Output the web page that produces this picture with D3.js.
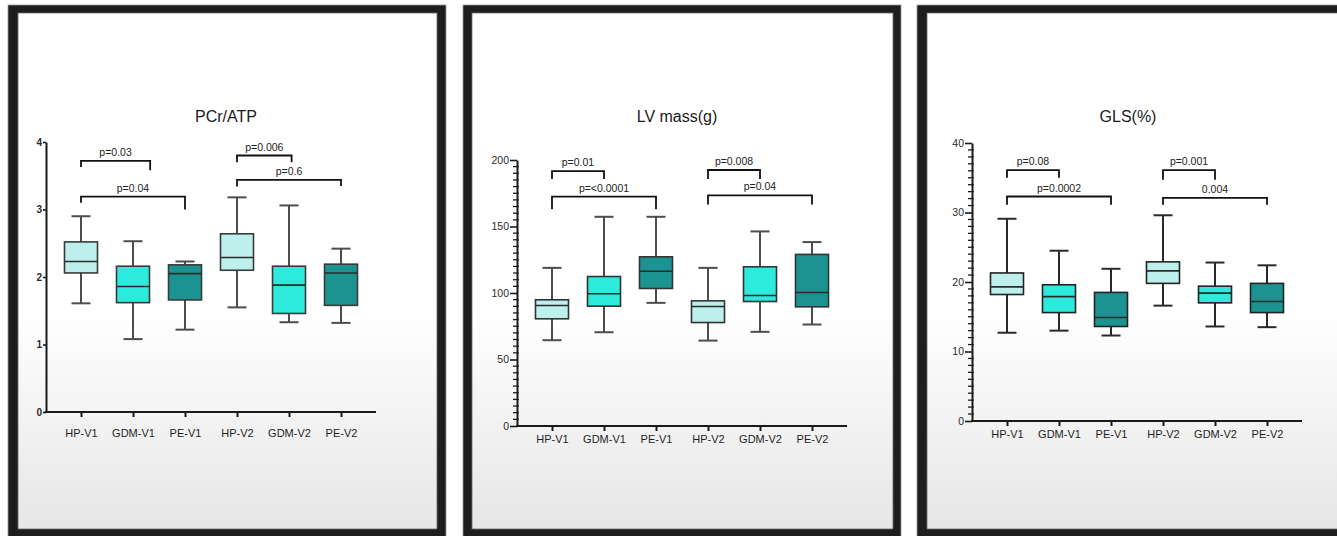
<!DOCTYPE html>
<html>
<head>
<meta charset="utf-8">
<script src="https://cdn.jsdelivr.net/npm/d3@7"></script>
<style>
  html, body { margin: 0; padding: 0; background: #ffffff; }
  svg { display: block; font-family: "Liberation Sans", Arial, Helvetica, sans-serif; }
</style>
</head>
<body>
<script>
// ---- categories and groups ----
const categories = ["HP-V1", "GDM-V1", "PE-V1", "HP-V2", "GDM-V2", "PE-V2"];
const groups = ["HP", "GDM", "PE", "HP", "GDM", "PE"];
const groupColors = { HP: "#bdefed", GDM: "#2debdc", PE: "#1b9491" };

// ---- PCr/ATP ----
const pcrMin    = [1.61, 1.08, 1.22, 1.55, 1.33, 1.32];
const pcrQ1     = [2.06, 1.62, 1.66, 2.10, 1.46, 1.58];
const pcrMedian = [2.23, 1.86, 2.05, 2.29, 1.88, 2.06];
const pcrQ3     = [2.52, 2.16, 2.18, 2.64, 2.16, 2.19];
const pcrMax    = [2.90, 2.53, 2.23, 3.18, 3.06, 2.42];
const pcrTicks  = [0, 1, 2, 3, 4];
const pcrBrackets = [
  { from: 0, to: 1.33, y: 3.72, leftEnd: 3.63, rightEnd: 3.58, label: "p=0.03" },
  { from: 0, to: 2,    y: 3.19, leftEnd: 3.10, rightEnd: 3.00, label: "p=0.04" },
  { from: 3, to: 4.05, y: 3.80, leftEnd: 3.70, rightEnd: 3.70, label: "p=0.006" },
  { from: 3, to: 5,    y: 3.44, leftEnd: 3.34, rightEnd: 3.35, label: "p=0.6" }
];

// ---- LV mass (g) ----
const lvMin    = [64.5, 70.5, 92.6, 64.2, 70.8, 76.3];
const lvQ1     = [80.6, 90.1, 103.4, 77.8, 93.6, 89.6];
const lvMedian = [90.6, 99.4, 116.4, 89.8, 98.1, 100.4];
const lvQ3     = [94.9, 112.4, 127.2, 94.1, 119.7, 129.0];
const lvMax    = [118.9, 157.3, 157.3, 118.9, 146.3, 138.3];
const lvTicks  = [0, 50, 100, 150, 200];
const lvBrackets = [
  { from: 0, to: 1, y: 191.7, leftEnd: 185.7, rightEnd: 185.7, label: "p=0.01" },
  { from: 0, to: 2, y: 172.4, leftEnd: 162.9, rightEnd: 162.9, label: "p=<0.0001" },
  { from: 3, to: 4, y: 192.5, leftEnd: 185.7, rightEnd: 185.7, label: "p=0.008" },
  { from: 3, to: 5, y: 173.4, leftEnd: 166.6, rightEnd: 166.6, label: "p=0.04" }
];

// ---- GLS (%) ----
const glsMin    = [12.7, 13.0, 12.3, 16.6, 13.6, 13.5];
const glsQ1     = [18.2, 15.6, 13.6, 19.8, 17.0, 15.6];
const glsMedian = [19.3, 17.9, 14.9, 21.6, 18.4, 17.2];
const glsQ3     = [21.3, 19.6, 18.5, 22.9, 19.4, 19.8];
const glsMax    = [29.1, 24.5, 21.9, 29.6, 22.8, 22.4];
const glsTicks  = [0, 10, 20, 30, 40];
const glsBrackets = [
  { from: 0, to: 1, y: 36.1, leftEnd: 35.0, rightEnd: 35.0, label: "p=0.08" },
  { from: 0, to: 2, y: 32.3, leftEnd: 31.1, rightEnd: 31.1, label: "p=0.0002" },
  { from: 3, to: 4, y: 36.1, leftEnd: 34.7, rightEnd: 34.7, label: "p=0.001" },
  { from: 3, to: 5, y: 32.1, leftEnd: 31.1, rightEnd: 31.1, label: "0.004" }
];

// ---- panel layout ----
const panels = [
  {
    title: "PCr/ATP", titleX: 226, titleY: 122,
    frameX: 8, frameW: 438, innerX: 18, innerW: 419,
    axisX: 46, yBottom: 412, yTop: 142, yMax: 4, ticks: pcrTicks, minorStep: null,
    boldTicks: true, tickLen: 3, labelPad: 12,
    min: pcrMin, q1: pcrQ1, med: pcrMedian, q3: pcrQ3, max: pcrMax, brackets: pcrBrackets,
    whisker: "#4d4d4d", boxStroke: "#3a3a3a"
  },
  {
    title: "LV mass(g)", titleX: 677, titleY: 122,
    frameX: 463, frameW: 438, innerX: 472, innerW: 421,
    axisX: 517, yBottom: 426, yTop: 160, yMax: 200, ticks: lvTicks, minorStep: 5,
    boldTicks: false, tickLen: 7, labelPad: 4,
    min: lvMin, q1: lvQ1, med: lvMedian, q3: lvQ3, max: lvMax, brackets: lvBrackets,
    whisker: "#4d4d4d", boxStroke: "#333333"
  },
  {
    title: "GLS(%)", titleX: 1128, titleY: 122,
    frameX: 917, frameW: 460, innerX: 927, innerW: 440,
    axisX: 972, yBottom: 421, yTop: 143, yMax: 40, ticks: glsTicks, minorStep: 1,
    boldTicks: false, tickLen: 7, labelPad: 4,
    min: glsMin, q1: glsQ1, med: glsMedian, q3: glsQ3, max: glsMax, brackets: glsBrackets,
    whisker: "#2a2a2a", boxStroke: "#222222"
  }
];

const W = 1337, H = 536;
const boxW = 33, capW = 19, axisSpan = 330;

const svg = d3.select("body").append("svg")
  .attr("width", W).attr("height", H);

const defs = svg.append("defs");
const grad = defs.append("linearGradient")
  .attr("id", "paper").attr("x1", 0).attr("y1", 0).attr("x2", 0).attr("y2", 1);
grad.append("stop").attr("offset", "0%").attr("stop-color", "#ffffff");
grad.append("stop").attr("offset", "58%").attr("stop-color", "#ffffff");
grad.append("stop").attr("offset", "100%").attr("stop-color", "#e6e6e6");

panels.forEach(p => {
  const g = svg.append("g");

  // picture frame
  g.append("rect")
    .attr("x", p.frameX).attr("y", 5)
    .attr("width", p.frameW).attr("height", 545)
    .attr("fill", "#1e1e1e")
    .attr("stroke", "#9a9a9a").attr("stroke-width", 0.8);
  g.append("rect")
    .attr("x", p.innerX).attr("y", 13)
    .attr("width", p.innerW).attr("height", 516)
    .attr("fill", "url(#paper)")
    .attr("stroke", "#6a6a6a").attr("stroke-width", 0.8);

  // scales
  const x = d3.scalePoint()
    .domain(categories)
    .range([p.axisX, p.axisX + axisSpan])
    .padding(0.673);
  const y = d3.scaleLinear()
    .domain([0, p.yMax])
    .range([p.yBottom, p.yTop]);
  const step = x.step();
  const xAt = v => x(categories[0]) + v * step;

  // title
  g.append("text")
    .attr("x", p.titleX).attr("y", p.titleY)
    .attr("text-anchor", "middle")
    .attr("font-size", 16).attr("fill", "#1a1a1a")
    .text(p.title);

  // minor ticks
  if (p.minorStep) {
    const minor = d3.range(0, p.yMax + 1e-9, p.minorStep).filter(v => !p.ticks.includes(v));
    g.append("g").selectAll("line").data(minor).join("line")
      .attr("x1", p.axisX - 4).attr("x2", p.axisX + 1.8)
      .attr("y1", d => y(d)).attr("y2", d => y(d))
      .attr("stroke", "#1a1a1a").attr("stroke-width", 1.3);
  }

  // y axis
  const yAxis = g.append("g")
    .attr("transform", `translate(${p.axisX},0)`)
    .call(d3.axisLeft(y).tickValues(p.ticks).tickFormat(d3.format("~g"))
      .tickSize(p.tickLen).tickSizeOuter(0).tickPadding(1));
  yAxis.select(".domain").attr("stroke", "#1a1a1a").attr("stroke-width", 2);
  yAxis.selectAll(".tick line").attr("stroke", "#1a1a1a").attr("stroke-width", 1.6);
  yAxis.selectAll(".tick text")
    .attr("font-family", "Liberation Sans, Arial, sans-serif")
    .attr("font-size", p.boldTicks ? 10 : 10.5)
    .attr("font-weight", p.boldTicks ? "bold" : "normal")
    .attr("fill", "#2a2a2a");

  // x axis
  const xAxis = g.append("g")
    .attr("transform", `translate(0,${p.yBottom})`)
    .call(d3.axisBottom(x).tickSize(5).tickSizeOuter(0).tickPadding(p.labelPad));
  xAxis.select(".domain").attr("stroke", "#1a1a1a").attr("stroke-width", 2)
    .attr("d", `M${p.axisX - 1},0H${p.axisX + axisSpan}`);
  xAxis.selectAll(".tick line").attr("stroke", "#1a1a1a").attr("stroke-width", 2);
  xAxis.selectAll(".tick text")
    .attr("font-family", "Liberation Sans, Arial, sans-serif")
    .attr("font-size", 11).attr("fill", "#1f1f1f");

  // box plots
  const idx = d3.range(categories.length);
  const boxes = g.append("g").selectAll("g").data(idx).join("g");

  // whiskers
  boxes.append("line")
    .attr("x1", i => x(categories[i])).attr("x2", i => x(categories[i]))
    .attr("y1", i => y(p.max[i])).attr("y2", i => y(p.q3[i]))
    .attr("stroke", p.whisker).attr("stroke-width", 2);
  boxes.append("line")
    .attr("x1", i => x(categories[i])).attr("x2", i => x(categories[i]))
    .attr("y1", i => y(p.q1[i])).attr("y2", i => y(p.min[i]))
    .attr("stroke", p.whisker).attr("stroke-width", 2);
  // caps
  boxes.append("line")
    .attr("x1", i => x(categories[i]) - capW / 2).attr("x2", i => x(categories[i]) + capW / 2)
    .attr("y1", i => y(p.max[i])).attr("y2", i => y(p.max[i]))
    .attr("stroke", p.whisker).attr("stroke-width", 2);
  boxes.append("line")
    .attr("x1", i => x(categories[i]) - capW / 2).attr("x2", i => x(categories[i]) + capW / 2)
    .attr("y1", i => y(p.min[i])).attr("y2", i => y(p.min[i]))
    .attr("stroke", p.whisker).attr("stroke-width", 2);
  // box
  boxes.append("rect")
    .attr("x", i => x(categories[i]) - boxW / 2)
    .attr("y", i => y(p.q3[i]))
    .attr("width", boxW)
    .attr("height", i => y(p.q1[i]) - y(p.q3[i]))
    .attr("fill", i => groupColors[groups[i]])
    .attr("stroke", p.boxStroke).attr("stroke-width", 1.6);
  // median
  boxes.append("line")
    .attr("x1", i => x(categories[i]) - boxW / 2).attr("x2", i => x(categories[i]) + boxW / 2)
    .attr("y1", i => y(p.med[i])).attr("y2", i => y(p.med[i]))
    .attr("stroke", "#2a2a2a").attr("stroke-width", 1.6);

  // significance brackets
  const br = g.append("g").selectAll("g").data(p.brackets).join("g");
  br.append("path")
    .attr("d", b => `M${xAt(b.from)},${y(b.leftEnd)}V${y(b.y)}H${xAt(b.to)}V${y(b.rightEnd)}`)
    .attr("fill", "none").attr("stroke", "#111").attr("stroke-width", 1.8);
  br.append("text")
    .attr("x", b => (xAt(b.from) + xAt(b.to)) / 2)
    .attr("y", b => y(b.y) - 5)
    .attr("text-anchor", "middle")
    .attr("font-size", 10.5).attr("fill", "#222")
    .text(b => b.label);
});
</script>
</body>
</html>
